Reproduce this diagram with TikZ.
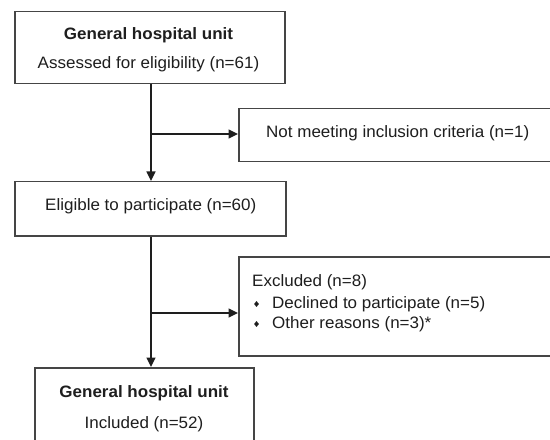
\documentclass[tikz,border=0pt]{standalone}
\usepackage{fontspec}
\setmainfont[FakeStretch=1.03]{Liberation Sans}
\usetikzlibrary{shapes.geometric,arrows.meta}
\definecolor{ink}{HTML}{1E1E1E}
\definecolor{edge}{HTML}{454545}
\begin{document}
\begin{tikzpicture}[x=1bp,y=-1bp,
  box/.style={draw=edge,line width=1.5bp,fill=white,inner sep=0pt,anchor=north west},
  txt/.style={text=ink,inner sep=0pt,font=\fontsize{16.5bp}{19bp}\selectfont},
  btxt/.style={txt,font=\fontsize{16.5bp}{19bp}\selectfont\bfseries},
  bul/.style={diamond,fill=ink,inner sep=0pt,minimum width=5bp,minimum height=6bp},
  arr/.style={draw=ink,line width=1.4bp,-{Triangle[length=9.5bp,width=9bp]}},
  ln/.style={draw=ink,line width=1.4bp}]
\useasboundingbox (0,0) rectangle (550,440);
% boxes
\node[box,minimum width=270bp,minimum height=72bp] (b1) at (14,11) {};
\node[box,minimum width=314bp,minimum height=53bp] (b2) at (238,108) {};
\node[box,minimum width=271bp,minimum height=54bp] (b3) at (14,181) {};
\node[box,minimum width=314bp,minimum height=99bp] (b4) at (238,256) {};
\node[box,minimum width=219bp,minimum height=76bp] (b5) at (34,367) {};
% texts
\node[btxt,anchor=base] (t1a) at (148.5,39.5) {General hospital unit};
\node[txt,anchor=base] (t1b) at (148.5,69) {Assessed for eligibility (n=61)};
\node[txt,anchor=base west] (t2) at (266,137.5) {Not meeting inclusion criteria (n=1)};
\node[txt,anchor=base west] (t3) at (45,210.5) {Eligible to participate (n=60)};
\node[txt,anchor=base west] (t4a) at (252,286.5) {Excluded (n=8)};
\node[bul] (d1) at (256.5,304) {};
\node[txt,anchor=base west] (t4b) at (272,308.5) {Declined to participate (n=5)};
\node[bul] (d2) at (256.5,324) {};
\node[txt,anchor=base west] (t4c) at (272,328.5) {Other reasons (n=3)*};
\node[btxt,anchor=base] (t5a) at (144,397.5) {General hospital unit};
\node[txt,anchor=base] (t5b) at (144,428.5) {Included (n=52)};
% connectors
\coordinate (j1) at (151,134);
\coordinate (j2) at (151,313);
\draw[arr] (b1.south -| j1) -- (b3.north -| j1);
\draw[arr] (j1) -- (b2.west |- j1);
\draw[arr] (b3.south -| j2) -- (b5.north -| j2);
\draw[arr] (j2) -- (b4.west |- j2);
\end{tikzpicture}
\end{document}
